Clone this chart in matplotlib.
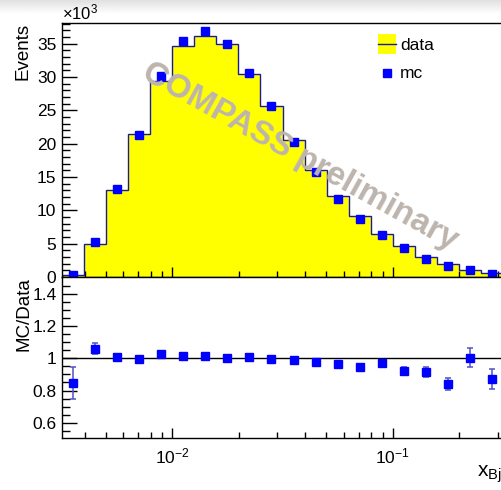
import numpy as np
import matplotlib
matplotlib.use('Agg')
import matplotlib.pyplot as plt
from matplotlib.ticker import FixedLocator, FuncFormatter

plt.rcParams['font.family'] = ['Liberation Sans', 'DejaVu Sans']
plt.rcParams['mathtext.fontset'] = 'custom'
plt.rcParams['mathtext.rm'] = 'Liberation Sans'
plt.rcParams['mathtext.it'] = 'Liberation Sans:italic'

# bin edges in x_Bj (10 log bins per decade)
edges = [0.003162, 0.003981, 0.005012, 0.006310, 0.007943, 0.01, 0.01259,
         0.01585, 0.01995, 0.02512, 0.03162, 0.03981, 0.05012, 0.06310,
         0.07943, 0.1, 0.1259, 0.1585, 0.1995, 0.2512, 0.3162]

# events in thousands
data_k = [0.3, 4.95, 13.1, 21.5, 29.4, 34.7, 36.2, 34.9, 30.4, 25.7,
          20.5, 16.0, 12.1, 9.2, 6.4, 4.65, 3.0, 2.0, 1.1, 0.6]
mc_k = [0.25, 5.25, 13.2, 21.3, 30.2, 35.4, 36.9, 35.0, 30.6, 25.6,
        20.3, 15.7, 11.7, 8.7, 6.25, 4.3, 2.75, 1.7, 1.1, 0.52]

ratio = [0.848, 1.060, 1.008, 0.994, 1.029, 1.016, 1.016, 1.004, 1.006, 0.998,
         0.991, 0.979, 0.966, 0.948, 0.971, 0.923, 0.915, 0.842, 1.004, 0.873]
ratio_err = [0.10, 0.033, 0.01, 0.008, 0.008, 0.008, 0.008, 0.008, 0.008, 0.008,
             0.01, 0.01, 0.01, 0.012, 0.015, 0.02, 0.033, 0.037, 0.058, 0.062]

edges = np.array(edges)
centers = np.sqrt(edges[:-1] * edges[1:])

W, H = 502, 490
def fx(x):
    return x / W
def fy(y):
    return 1 - y / H

fig = plt.figure(figsize=(5.02, 4.90), dpi=100)

# light grey shading along the top edge
bg = fig.add_axes([0, fy(14), 1, 14 / H], zorder=-5)
grad = np.linspace(0.88, 1.0, 50).reshape(-1, 1)
bg.imshow(grad, aspect='auto', cmap='gray', vmin=0, vmax=1, extent=[0, 1, 0, 1], origin='upper')
bg.axis('off')

ax1 = fig.add_axes([fx(62), fy(277), (503 - 62) / W, (277 - 23) / H])
ax2 = fig.add_axes([fx(62), fy(438), (503 - 62) / W, (438 - 277) / H], sharex=ax1)

navy = '#1a1a9a'
ax1.stairs(data_k, edges, fill=True, color='#ffff00', zorder=1)
ax1.stairs(data_k, edges, color=navy, lw=1.0, baseline=0, zorder=2)
ax1.plot(centers, mc_k, 's', color='#0000ff', ms=6.3, zorder=3)

ax1.set_xscale('log')
ax1.set_xlim(edges[0], edges[-1])
ax1.set_ylim(0, 38.1)
ax1.yaxis.set_major_locator(FixedLocator([0, 5, 10, 15, 20, 25, 30, 35]))
ax1.yaxis.set_minor_locator(FixedLocator(np.arange(0, 39, 1)))
ax1.tick_params(axis='x', labelbottom=False)

ax2.errorbar(centers, ratio, yerr=ratio_err, fmt='none', ecolor='#5252c8',
             elinewidth=1.1, capsize=2.5, capthick=1.1, zorder=2)
ax2.plot(centers, ratio, 's', color='#0000ff', ms=6.3, zorder=3)
ax2.axhline(1.0, color='black', lw=1.0, zorder=1)
ax2.set_ylim(0.505, 1.505)
ax2.yaxis.set_major_locator(FixedLocator([0.6, 0.8, 1.0, 1.2, 1.4]))
ax2.yaxis.set_minor_locator(FixedLocator(np.arange(0.55, 1.5, 0.05)))
ax2.yaxis.set_major_formatter(FuncFormatter(lambda v, p: '%g' % v))
ax2.set_xticks([0.01, 0.1], labels=['$10^{-2}$', '$10^{-1}$'])
ax2.xaxis.set_minor_locator(FixedLocator([0.004, 0.005, 0.006, 0.007, 0.008, 0.009,
                                          0.02, 0.03, 0.04, 0.05, 0.06, 0.07, 0.08, 0.09,
                                          0.2, 0.3]))
ax2.xaxis.set_minor_formatter(FuncFormatter(lambda v, p: ''))

for ax in (ax1, ax2):
    ax.tick_params(which='both', direction='in', top=False, right=False, labelsize=12.5)
    ax.tick_params(axis='y', which='major', length=11, width=1.0, pad=4)
    ax.tick_params(axis='y', which='minor', length=6, width=1.0)
    ax.tick_params(axis='x', which='major', length=7, width=1.0, pad=6)
    ax.tick_params(axis='x', which='minor', length=4, width=1.0)
    for s in ax.spines.values():
        s.set_linewidth(1.0)

fig.text(fx(62), fy(19), r'$\times10^{3}$', fontsize=12, ha='left', va='baseline')
fig.text(fx(23), fy(23), 'Events', rotation=90, fontsize=13.5, ha='center', va='top')
fig.text(fx(24), fy(277), 'MC/Data', rotation=90, fontsize=13.5, ha='center', va='top')
fig.text(fx(477), fy(477), r'x$_{\mathregular{Bj}}$', fontsize=15, ha='left', va='baseline')

# legend
fig.patches.append(plt.Rectangle((fx(378), fy(54)), 18 / W, 20 / H, transform=fig.transFigure,
                                 facecolor='#ffff00', edgecolor='none', zorder=5))
fig.lines.append(plt.Line2D([fx(378), fx(396)], [fy(44), fy(44)], transform=fig.transFigure,
                            color=navy, lw=1.0, zorder=6))
fig.lines.append(plt.Line2D([fx(387)], [fy(73)], transform=fig.transFigure, marker='s',
                            color='#0000ff', ms=6.3, ls='none', zorder=6))
fig.text(fx(400), fy(45), 'data', fontsize=12.5, ha='left', va='center')
fig.text(fx(400), fy(73), 'mc', fontsize=12.5, ha='left', va='center')

fig.text(fx(300), fy(157), 'COMPASS preliminary', fontsize=24, fontweight='bold',
         color='#bdb5ad', rotation=-29, ha='center', va='center', rotation_mode='anchor',
         zorder=10)

fig.savefig('out.png', dpi=100)
